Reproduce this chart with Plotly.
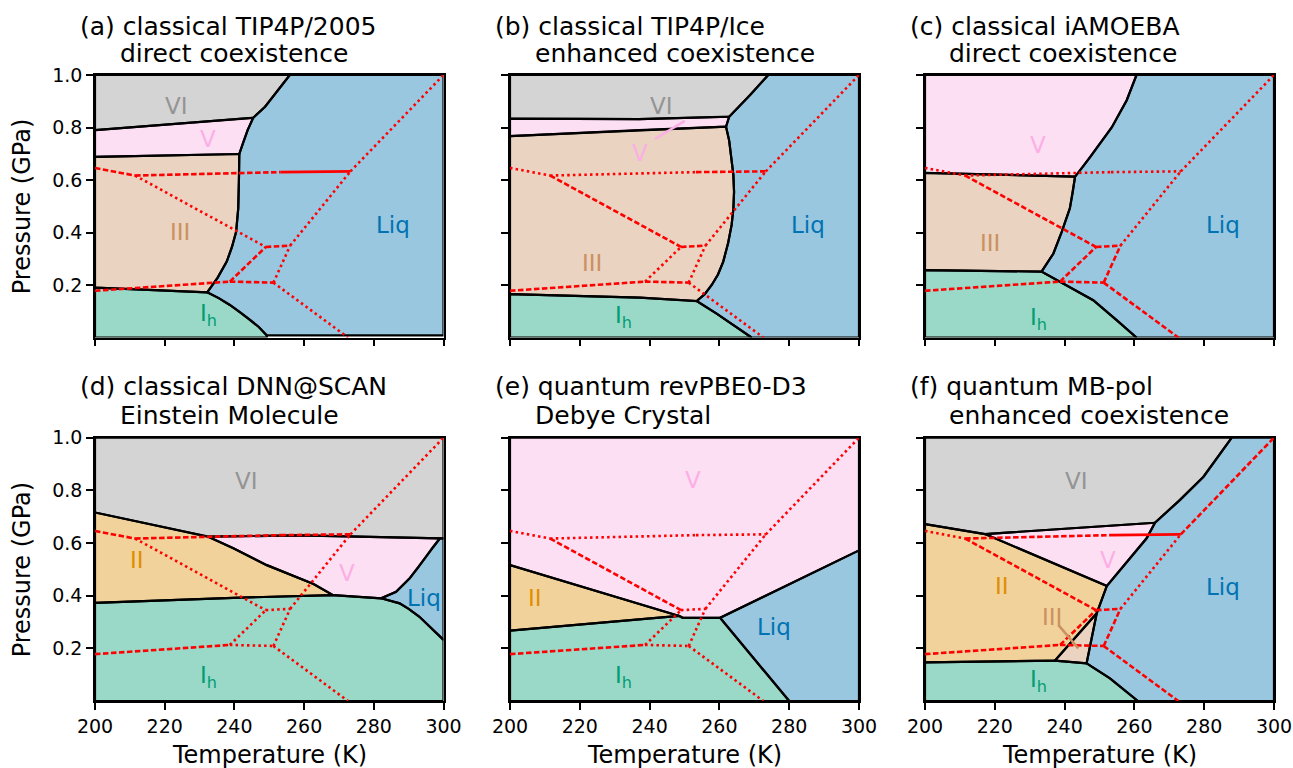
import plotly.graph_objects as go

W, H = 1293, 768

# ---------------- axes ----------------
T_TICKS = [200, 220, 240, 260, 280, 300]
P_TICKS = [0.2, 0.4, 0.6, 0.8, 1.0]
P_TICK_TEXT = ["0.2", "0.4", "0.6", "0.8", "1.0"]

TITLE_LINE1 = ["(a) classical TIP4P/2005", "(b) classical TIP4P/Ice", "(c) classical iAMOEBA",
               "(d) classical DNN@SCAN", "(e) quantum revPBE0-D3", "(f) quantum MB-pol"]
TITLE_LINE2 = ["direct coexistence", "enhanced coexistence", "direct coexistence",
               "Einstein Molecule", "Debye Crystal", "enhanced coexistence"]

PHASE_RGB = {"Liq": (1, 115, 178), "Ih": (2, 158, 115), "II": (222, 143, 5),
             "III": (202, 145, 97), "V": (251, 175, 228), "VI": (148, 148, 148)}

# ---------------- experimental boundaries (red), (T [K], P [GPa]) ----------------
exp_II_VI = [(200.0, 0.646), (211.5, 0.617)]
exp_V_VI_low = [(211.5, 0.617), (253.3, 0.630)]
exp_V_VI_high = [(253.3, 0.630), (273.3, 0.633)]
exp_II_V = [(211.5, 0.617), (249.0, 0.345)]
exp_Ih_II = [(200.0, 0.178), (238.7, 0.213)]
exp_II_III = [(238.7, 0.213), (249.0, 0.345)]
exp_III_V = [(249.0, 0.345), (256.0, 0.350)]
exp_Ih_III = [(238.7, 0.213), (251.2, 0.209)]
exp_III_L = [(251.2, 0.209), (256.0, 0.350)]
exp_Ih_L = [(251.2, 0.209), (272.6, 0.0)]
exp_V_L = [(256.0, 0.350), (273.3, 0.633)]
exp_VI_L = [(273.3, 0.633), (300.0, 1.0)]
EXP_SEGMENTS = [exp_II_VI, exp_V_VI_low, exp_V_VI_high, exp_II_V, exp_Ih_II, exp_II_III,
                exp_III_V, exp_Ih_III, exp_III_L, exp_Ih_L, exp_V_L, exp_VI_L]
# line style per panel for each segment: o dotted, d dashed, s solid
EXP_STYLE = [
    "ddsoddddoooo",
    "oodddoddoooo",
    "ooodddddddoo",
    "dddodooooooo",
    "ooodd ooooooo".replace(" ", ""),
    "odsdddddddodd"[:12],
]

# ---------------- simulated phase regions (T [K], P [GPa]) ----------------
# (a) TIP4P/2005
a_VI = [(200, 1.0), (200, 0.790), (245.4, 0.837), (248.8, 0.879), (255.9, 1.0)]
a_V = [(200, 0.790), (245.4, 0.837), (243.8, 0.790), (242.6, 0.746), (241.4, 0.699), (200, 0.688)]
a_III = [(200, 0.688), (241.4, 0.699), (241.3, 0.600), (241.1, 0.492), (240.5, 0.403),
         (239.3, 0.345), (237.8, 0.289), (235.2, 0.228), (232.2, 0.172), (200, 0.190)]
a_Ih = [(200, 0.190), (232.2, 0.172), (235.5, 0.150), (238.7, 0.124), (241.8, 0.095),
        (244.5, 0.067), (247.0, 0.040), (249.3, 0.008), (249.3, 0.0), (200, 0.0)]
a_Liq = [(255.9, 1.0), (248.8, 0.879), (245.4, 0.837), (243.8, 0.790), (242.6, 0.746), (241.4, 0.699),
         (241.3, 0.600), (241.1, 0.492), (240.5, 0.403), (239.3, 0.345), (237.8, 0.289), (235.2, 0.228),
         (232.2, 0.172), (235.5, 0.150), (238.7, 0.124), (241.8, 0.095), (244.5, 0.067), (247.0, 0.040),
         (249.3, 0.008), (300, 0.008), (300, 1.0)]

# (b) TIP4P/Ice
b_VI = [(200, 1.0), (200, 0.834), (237.0, 0.832), (262.8, 0.841), (268.8, 0.924), (274.0, 1.0)]
b_V = [(200, 0.834), (237.0, 0.832), (262.8, 0.841), (261.9, 0.803), (237.0, 0.790), (200, 0.767)]
b_III = [(200, 0.767), (237.0, 0.790), (261.9, 0.803), (262.8, 0.750), (263.5, 0.683), (264.0, 0.620),
         (264.2, 0.555), (264.0, 0.490), (263.5, 0.429), (262.5, 0.360), (261.1, 0.289), (259.6, 0.240),
         (257.8, 0.200), (255.8, 0.165), (253.5, 0.139), (237.2, 0.152), (200, 0.165)]
b_Ih = [(200, 0.165), (237.2, 0.152), (253.5, 0.139), (259.2, 0.091), (269.2, 0.0), (200, 0.0)]
b_Liq = [(274.0, 1.0), (268.8, 0.924), (262.8, 0.841), (261.9, 0.803), (262.8, 0.750), (263.5, 0.683),
         (264.0, 0.620), (264.2, 0.555), (264.0, 0.490), (263.5, 0.429), (262.5, 0.360), (261.1, 0.289),
         (259.6, 0.240), (257.8, 0.200), (255.8, 0.165), (253.5, 0.139), (259.2, 0.091), (269.2, 0.0),
         (300, 0.0), (300, 1.0)]

# (c) iAMOEBA
c_V = [(200, 1.0), (200, 0.627), (243.0, 0.613), (245.2, 0.650), (247.5, 0.690), (250.5, 0.745),
       (253.5, 0.800), (257.8, 0.904), (260.6, 1.0)]
c_III = [(200, 0.627), (243.0, 0.613), (242.3, 0.550), (241.5, 0.492), (239.2, 0.403),
         (236.8, 0.320), (233.4, 0.251), (200, 0.257)]
c_Ih = [(200, 0.257), (233.4, 0.251), (239.6, 0.206), (248.2, 0.142), (254.9, 0.066), (260.6, 0.0), (200, 0.0)]
c_Liq = [(260.6, 1.0), (257.8, 0.904), (253.5, 0.800), (250.5, 0.745), (247.5, 0.690), (245.2, 0.650),
         (243.0, 0.613), (242.3, 0.550), (241.5, 0.492), (239.2, 0.403), (236.8, 0.320), (233.4, 0.251),
         (239.6, 0.206), (248.2, 0.142), (254.9, 0.066), (260.6, 0.0), (300, 0.0), (300, 1.0)]

# (d) DNN@SCAN
d_VI = [(200, 1.0), (200, 0.716), (232.5, 0.624), (258.7, 0.629), (299.0, 0.618), (300, 0.618), (300, 1.0)]
d_II = [(200, 0.716), (232.5, 0.624), (239.7, 0.580), (249.3, 0.516), (262.7, 0.444), (268.3, 0.402),
        (239.7, 0.392), (200, 0.373)]
d_V = [(232.5, 0.624), (258.7, 0.629), (299.0, 0.618), (297.0, 0.585), (295.0, 0.548), (292.6, 0.505),
       (290.3, 0.466), (286.4, 0.415), (282.1, 0.390), (268.3, 0.402), (262.7, 0.444), (249.3, 0.516),
       (239.7, 0.580)]
d_Liq = [(299.0, 0.618), (300, 0.618), (300, 0.232), (296.5, 0.278), (293.1, 0.320), (290.0, 0.350),
         (287.4, 0.371), (282.1, 0.390), (286.4, 0.415), (290.3, 0.466), (292.6, 0.505), (295.0, 0.548),
         (297.0, 0.585)]
d_Ih = [(200, 0.373), (239.7, 0.392), (268.3, 0.402), (282.1, 0.390), (287.4, 0.371), (290.0, 0.350),
        (293.1, 0.320), (296.5, 0.278), (300, 0.232), (300, 0.0), (200, 0.0)]

# (e) revPBE0-D3
e_V = [(200, 1.0), (200, 0.516), (248.5, 0.323), (249.5, 0.316), (260.2, 0.316), (300, 0.572), (300, 1.0)]
e_II = [(200, 0.516), (248.5, 0.323), (200, 0.267)]
e_Ih = [(200, 0.267), (248.5, 0.323), (249.5, 0.316), (260.2, 0.316), (280.0, 0.0), (200, 0.0)]
e_Liq = [(260.2, 0.316), (300, 0.572), (300, 0.0), (280.0, 0.0)]

# (f) MB-pol
f_VI = [(200, 1.0), (200, 0.672), (217.2, 0.634), (265.9, 0.677), (273.0, 0.763), (279.8, 0.852),
        (287.9, 1.0)]
f_V = [(217.2, 0.634), (265.9, 0.677), (263.5, 0.618), (252.1, 0.437)]
f_II = [(200, 0.672), (217.2, 0.634), (252.1, 0.437), (249.2, 0.333), (237.2, 0.153), (218.6, 0.151),
        (200, 0.147)]
f_III = [(249.2, 0.333), (246.3, 0.143), (237.2, 0.153)]
f_Ih = [(200, 0.147), (218.6, 0.151), (237.2, 0.153), (246.3, 0.143), (253.0, 0.086), (261.0, 0.0),
        (200, 0.0)]
f_Liq = [(287.9, 1.0), (279.8, 0.852), (273.0, 0.763), (265.9, 0.677), (263.5, 0.618), (252.1, 0.437),
         (249.2, 0.333), (246.3, 0.143), (253.0, 0.086), (261.0, 0.0), (300, 0.0), (300, 1.0)]

PANEL_REGIONS = [
    [("VI", a_VI), ("V", a_V), ("III", a_III), ("Ih", a_Ih), ("Liq", a_Liq)],
    [("VI", b_VI), ("V", b_V), ("III", b_III), ("Ih", b_Ih), ("Liq", b_Liq)],
    [("V", c_V), ("III", c_III), ("Ih", c_Ih), ("Liq", c_Liq)],
    [("VI", d_VI), ("II", d_II), ("V", d_V), ("Liq", d_Liq), ("Ih", d_Ih)],
    [("V", e_V), ("II", e_II), ("Ih", e_Ih), ("Liq", e_Liq)],
    [("VI", f_VI), ("V", f_V), ("II", f_II), ("III", f_III), ("Ih", f_Ih), ("Liq", f_Liq)],
]

# phase label positions (T, P)
a_labels = [("VI", 223.4, 0.881), ("V", 232.5, 0.758), ("III", 224.4, 0.403), ("Ih", 232.5, 0.085), ("Liq", 285.5, 0.428)]
b_labels = [("VI", 243.5, 0.881), ("V", 237.2, 0.701), ("III", 223.4, 0.282), ("Ih", 232.5, 0.079), ("Liq", 285.5, 0.428)]
c_labels = [("V", 232.5, 0.733), ("III", 218.6, 0.361), ("Ih", 232.5, 0.072), ("Liq", 285.3, 0.428)]
d_labels = [("VI", 243.5, 0.837), ("II", 212.0, 0.535), ("V", 272.2, 0.487), ("Liq", 294.4, 0.390), ("Ih", 232.5, 0.092)]
e_labels = [("V", 252.5, 0.839), ("II", 207.2, 0.390), ("Liq", 275.5, 0.282), ("Ih", 232.5, 0.092)]
f_labels = [("VI", 243.5, 0.837), ("V", 252.5, 0.537), ("II", 222.0, 0.437), ("III", 236.3, 0.318), ("Ih", 232.5, 0.077), ("Liq", 285.3, 0.432)]
PANEL_LABELS = [a_labels, b_labels, c_labels, d_labels, e_labels, f_labels]

# label pointer lines
b_pointer_V = [(241.5, 0.756), (250.1, 0.825)]
f_pointer_III = [(238.2, 0.289), (243.9, 0.200)]

# ---------------- layout geometry (pixels) ----------------
COL_PX = [(95, 443.5), (510, 859), (925, 1274)]
ROW_PX = [(75, 337.5), (437.7, 701)]

FONT = "DejaVu Sans"


def rgba(name, a):
    r, g, b = PHASE_RGB[name]
    return f"rgba({r},{g},{b},{a})"


def xs(pts):
    return [p[0] for p in pts]


def ys(pts):
    return [p[1] for p in pts]


fig = go.Figure()
DASH = {"o": "2.5px,3.2px", "d": "5.5px,2.5px", "s": "solid"}

for i in range(6):
    ax = "" if i == 0 else str(i + 1)
    xr, yr = "x" + ax, "y" + ax
    regions = PANEL_REGIONS[i]
    for name, poly in regions:
        fig.add_trace(go.Scatter(x=xs(poly), y=ys(poly), xaxis=xr, yaxis=yr, mode="lines",
                                 fill="toself", fillcolor=rgba(name, 0.4),
                                 line=dict(width=0, color="rgba(0,0,0,0)"), hoverinfo="skip"))
    for name, poly in regions:
        fig.add_trace(go.Scatter(x=xs(poly) + [poly[0][0]], y=ys(poly) + [poly[0][1]], xaxis=xr, yaxis=yr,
                                 mode="lines", line=dict(width=2.2, color="black"), hoverinfo="skip"))
    for seg, st in zip(EXP_SEGMENTS, EXP_STYLE[i]):
        fig.add_trace(go.Scatter(x=xs(seg), y=ys(seg), xaxis=xr, yaxis=yr, mode="lines",
                                 line=dict(width=2.6, color="red", dash=DASH[st]), hoverinfo="skip"))
    for name, t, p in PANEL_LABELS[i]:
        txt = "I<sub>h</sub>" if name == "Ih" else name
        fig.add_annotation(x=t, y=p, xref=xr, yref=yr, text=txt, showarrow=False,
                           font=dict(family=FONT, size=23, color=rgba(name, 1)))

fig.add_trace(go.Scatter(x=xs(b_pointer_V), y=ys(b_pointer_V), xaxis="x2", yaxis="y2", mode="lines",
                         line=dict(width=2.5, color=rgba("V", 1)), hoverinfo="skip"))
fig.add_trace(go.Scatter(x=xs(f_pointer_III), y=ys(f_pointer_III), xaxis="x6", yaxis="y6", mode="lines",
                         line=dict(width=2.5, color=rgba("III", 1)), hoverinfo="skip"))

layout = dict(width=W, height=H, margin=dict(l=0, r=0, t=0, b=0, pad=0, autoexpand=False), autosize=False,
              plot_bgcolor="white", paper_bgcolor="white", showlegend=False)
for i in range(6):
    r, c = divmod(i, 3)
    ax = "" if i == 0 else str(i + 1)
    x0, x1 = COL_PX[c]
    y0, y1 = ROW_PX[r]
    common = dict(ticks="outside", ticklen=7, tickwidth=1.5, tickcolor="black",
                  showline=True, linecolor="black", linewidth=1.5, mirror=True,
                  showgrid=False, zeroline=False, automargin=False, fixedrange=True,
                  tickfont=dict(family=FONT, size=19, color="black"))
    layout["xaxis" + ax] = dict(domain=[x0 / W, x1 / W], range=[200, 300], tickvals=T_TICKS,
                                ticktext=[str(t) for t in T_TICKS], showticklabels=(r == 1),
                                anchor="y" + ax, **common)
    layout["yaxis" + ax] = dict(domain=[1 - y1 / H, 1 - y0 / H], range=[0, 1.0], tickvals=P_TICKS,
                                ticktext=P_TICK_TEXT, showticklabels=(c == 0),
                                anchor="x" + ax, **common)
fig.update_layout(**layout)

# titles
TITLE_X1 = [78, 493, 908]
TITLE_X2 = [118, 533, 947]
TITLE_Y1 = [26.3, 386.5]
TITLE_Y2 = [53.3, 415.0]
for i in range(6):
    r, c = divmod(i, 3)
    fig.add_annotation(x=TITLE_X1[c] / W, y=1 - TITLE_Y1[r] / H, xref="paper", yref="paper",
                       text=TITLE_LINE1[i], showarrow=False, xanchor="left", yanchor="middle",
                       font=dict(family=FONT, size=25, color="black"))
    fig.add_annotation(x=TITLE_X2[c] / W, y=1 - TITLE_Y2[r] / H, xref="paper", yref="paper",
                       text=TITLE_LINE2[i], showarrow=False, xanchor="left", yanchor="middle",
                       font=dict(family=FONT, size=25, color="black"))

# axis titles
for r in range(2):
    yc = (ROW_PX[r][0] + ROW_PX[r][1]) / 2
    fig.add_annotation(x=22 / W, y=1 - yc / H, xref="paper", yref="paper", text="Pressure (GPa)",
                       textangle=-90, showarrow=False, xanchor="center", yanchor="middle",
                       font=dict(family=FONT, size=24, color="black"))
for c in range(3):
    xc = (COL_PX[c][0] + COL_PX[c][1]) / 2
    fig.add_annotation(x=xc / W, y=1 - 755 / H, xref="paper", yref="paper", text="Temperature (K)",
                       showarrow=False, xanchor="center", yanchor="middle",
                       font=dict(family=FONT, size=24, color="black"))

fig.write_html("out.html")
